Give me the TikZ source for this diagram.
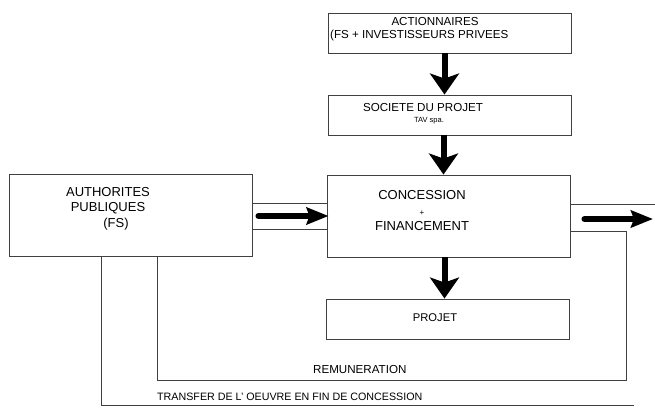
\documentclass[tikz,border=0pt]{standalone}
\usepackage{fontspec}
\setmainfont{Liberation Sans}
\usetikzlibrary{arrows.meta, positioning, calc}

\begin{document}
\begin{tikzpicture}[x=1pt, y=1pt,
	box/.style={draw=black!75, line width=0.9pt, minimum width=243pt, inner sep=0pt},
	lbl/.style={inner sep=0pt, font=\fontsize{11.6}{14}\selectfont},
	biglbl/.style={inner sep=0pt, align=center, font=\fontsize{13}{15.5}\selectfont},
	wire/.style={draw=black!75, line width=0.9pt},
	downarrow/.style={line width=6pt, -{Stealth[length=21pt, width=29pt, inset=5pt]}},
	rightarrow/.style={line width=6pt, line cap=round, -{Stealth[length=22pt, width=17pt, inset=3pt]}}]
		\useasboundingbox (0,0) rectangle (655,407);
		
		\node[box, minimum height=40pt] (act) at (449.5,374) {};
		\node[box, minimum height=40pt] (soc) at (449.5,292) {};
		\node[box, minimum height=82pt] (conc) at (448.5,191) {};
		\node[box, minimum height=82pt] (auth) at (130.5,192) {};
		\node[box, minimum height=40pt] (proj) at (447.5,88) {};
		
		\node[lbl] (act1) at (435,385) {ACTIONNAIRES};
		\node[lbl, anchor=west] (act2) at (330,371) {(FS + INVESTISSEURS PRIVEES};
		\node[lbl] (soc1) at (423,299) {SOCIETE DU PROJET};
		\node[lbl, font=\fontsize{7.5}{9}\selectfont] (soc2) at (429,286) {TAV spa.};
		\node[biglbl] (conctxt) at (422,196) {CONCESSION\\{\fontsize{8}{15.5}\selectfont +}\\FINANCEMENT};
		\node[biglbl] (authtxt) at (108,198.5) {AUTHORITES\\PUBLIQUES\\\hspace*{16pt}(FS)};
		\node[lbl, font=\fontsize{11.2}{13}\selectfont] (projtxt) at (435,89) {PROJET};
		\node[lbl, anchor=west] (remtxt) at (313,37) {REMUNERATION};
		\node[lbl, anchor=west, font=\fontsize{10.7}{13}\selectfont] (trtxt) at (157,10) {TRANSFER DE L' OEUVRE EN FIN DE CONCESSION};
		
		\draw[downarrow] ([xshift=-5pt]act.south) -- ([xshift=-5pt]soc.north);
		\draw[downarrow] ([xshift=-6pt]soc.south) -- ([xshift=-6pt]soc.south |- conc.north);
		\draw[downarrow] ([xshift=-4pt]conc.south) -- ([xshift=-4pt]conc.south |- proj.north);
		
		\draw[wire] ([yshift=13pt]conc.west) -- ([yshift=13pt]conc.west -| auth.east);
		\draw[wire] ([yshift=-13pt]conc.west) -- ([yshift=-13pt]conc.west -| auth.east);
		\draw[rightarrow] ([xshift=6pt]auth.east |- conc.west) -- ([xshift=2pt]conc.west);
		
		\coordinate (edge) at (655,203);
		\coordinate (out) at (653,188);
		\draw[wire] ([yshift=12pt]conc.east) -- (edge);
		\draw[rightarrow] ([xshift=14pt,yshift=-3pt]conc.east) -- (out);
		
		\coordinate (remR) at (626,27);
		\coordinate (remL) at (157,27);
		\draw[wire] ([yshift=-15pt]conc.east) -| (remR) -- (remL) -- (remL |- auth.south);
		
		\coordinate (trL) at (101,2);
		\coordinate (trR) at (634,2);
		\draw[wire] (trL |- auth.south) -- (trL) -- (trR);
\end{tikzpicture}
\end{document}
